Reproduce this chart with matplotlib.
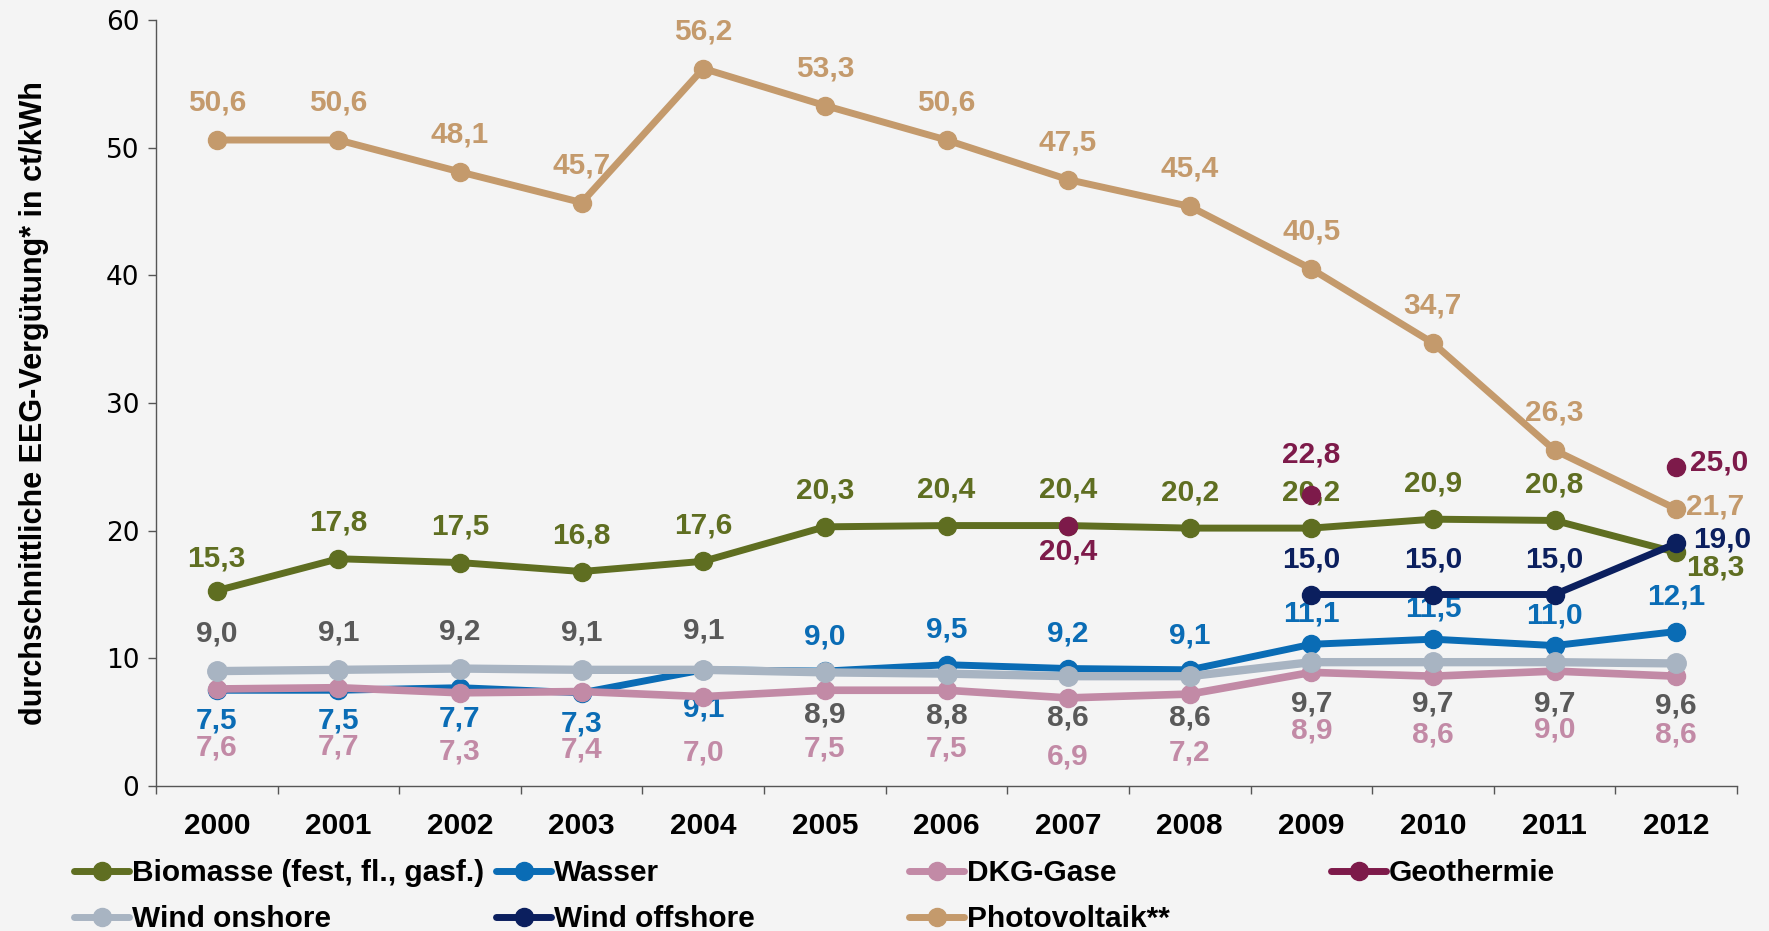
import numpy as np
import matplotlib
matplotlib.use("Agg")
import matplotlib.pyplot as plt
from matplotlib.lines import Line2D

# data
years = ["2000", "2001", "2002", "2003", "2004", "2005", "2006",
         "2007", "2008", "2009", "2010", "2011", "2012"]
nan = np.nan
biomasse = [15.3, 17.8, 17.5, 16.8, 17.6, 20.3, 20.4, 20.4, 20.2, 20.2, 20.9, 20.8, 18.3]
wasser = [7.5, 7.5, 7.7, 7.3, 9.1, 9.0, 9.5, 9.2, 9.1, 11.1, 11.5, 11.0, 12.1]
dkg_gase = [7.6, 7.7, 7.3, 7.4, 7.0, 7.5, 7.5, 6.9, 7.2, 8.9, 8.6, 9.0, 8.6]
geothermie = [nan, nan, nan, nan, nan, nan, nan, 20.4, nan, 22.8, nan, nan, 25.0]
wind_onshore = [9.0, 9.1, 9.2, 9.1, 9.1, 8.9, 8.8, 8.6, 8.6, 9.7, 9.7, 9.7, 9.6]
wind_offshore = [nan, nan, nan, nan, nan, nan, nan, nan, nan, 15.0, 15.0, 15.0, 19.0]
photovoltaik = [50.6, 50.6, 48.1, 45.7, 56.2, 53.3, 50.6, 47.5, 45.4, 40.5, 34.7, 26.3, 21.7]

BG = "#f4f4f4"
FONT = "Liberation Sans"
FS = 21.5

# name, values, line colour, label colour, linewidth, markersize, zorder
series = [
    ("Biomasse (fest, fl., gasf.)", biomasse, "#5f6e21", "#5f6e21", 5, 13, 3),
    ("Wasser", wasser, "#0a6cb5", "#0a6cb5", 5, 13, 4),
    ("DKG-Gase", dkg_gase, "#c28aa6", "#c28aa6", 5.5, 13, 5),
    ("Geothermie", geothermie, "#7d1a4a", "#7d1a4a", 5, 13, 9),
    ("Wind onshore", wind_onshore, "#a8b4c2", "#595959", 6, 14, 6),
    ("Wind offshore", wind_offshore, "#0b1f5e", "#0b1f5e", 5, 13, 8),
    ("Photovoltaik**", photovoltaik, "#c49a6c", "#c49a6c", 5, 13, 7),
]

# label offsets in points (dx, dy), default then per-index overrides
offsets = {
    "Biomasse (fest, fl., gasf.)": ((0, 26), {0: (0, 23), 12: (28, -11)}),
    "Wasser": ((0, 25), {0: (0, -22), 1: (0, -22), 2: (0, -22), 3: (0, -22), 4: (0, -28),
                         9: (0, 22), 10: (0, 22), 11: (0, 22)}),
    "DKG-Gase": ((0, -42), {4: (0, -40)}),
    "Geothermie": ((0, 29), {7: (0, -19), 12: (31, 3)}),
    "Wind onshore": ((0, -30), {0: (0, 27), 1: (0, 27), 2: (0, 27), 3: (0, 27), 4: (0, 28)}),
    "Wind offshore": ((0, 25), {12: (33, 3)}),
    "Photovoltaik**": ((0, 27), {12: (28, 2)}),
}

fig = plt.figure(figsize=(17.69, 9.31), dpi=100, facecolor=BG)
ax = fig.add_axes([156 / 1769, 145 / 931, 1581 / 1769, 766 / 931])
ax.set_facecolor(BG)

x = np.arange(len(years))
handles = []
for name, vals, col, lcol, lw, ms, z in series:
    line, = ax.plot(x, vals, color=col, lw=lw, marker="o", ms=ms,
                    solid_capstyle="round", zorder=z, label=name, clip_on=False)
    handles.append(line)
    default, over = offsets[name]
    for i, v in enumerate(vals):
        if np.isnan(v):
            continue
        dx, dy = over.get(i, default)
        ax.annotate(f"{v:.1f}".replace(".", ","), (i, v), xytext=(dx, dy),
                    textcoords="offset points", ha="center", va="center",
                    color=lcol, fontsize=FS, fontweight="bold", family=FONT,
                    zorder=2, annotation_clip=False)

ax.set_xlim(-0.5, 12.5)
ax.set_ylim(0, 60)
ax.set_yticks(range(0, 61, 10))
ax.set_xticks(x)
ax.set_xticklabels(years, fontsize=FS, fontweight="bold", family=FONT)
ax.set_xticks(np.arange(-0.5, 13, 1), minor=True)
ax.tick_params(axis="x", which="major", length=0, pad=19)
ax.tick_params(axis="x", which="minor", length=6, width=1, color="#555555", direction="out")
ax.tick_params(axis="y", length=6, width=1, color="#555555", pad=6, labelsize=19)
for lab in ax.get_yticklabels():
    lab.set_family("DejaVu Sans")

for s in ["top", "right"]:
    ax.spines[s].set_visible(False)
for s in ["left", "bottom"]:
    ax.spines[s].set_color("#555555")
    ax.spines[s].set_linewidth(1)

fig.text(34 / 1769, 1 - 403 / 931, "durchschnittliche EEG-Vergütung* in ct/kWh",
         rotation=90, ha="center", va="center", fontsize=22, fontweight="bold", family=FONT)

# legend: 4 columns x 2 rows, placed like the original grid
col_x = [74, 496, 909, 1331]
row_y = [873, 919]
for k, h in enumerate(handles):
    r, c = divmod(k, 4)
    proxy = Line2D([], [], color=h.get_color(), lw=5, marker="o", ms=13,
                   solid_capstyle="round")
    fig.legend([proxy], [h.get_label()], loc="center left",
               bbox_to_anchor=(col_x[c] / 1769, 1 - row_y[r] / 931),
               frameon=False, borderpad=0, borderaxespad=0,
               handlelength=1.85, handletextpad=0.1,
               prop={"family": FONT, "weight": "bold", "size": FS})

fig.savefig("out.png", dpi=100, facecolor=BG)
